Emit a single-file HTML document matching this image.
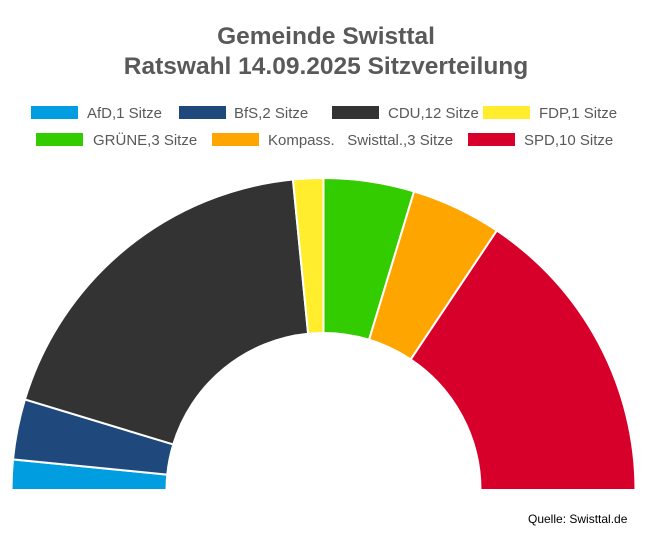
<!DOCTYPE html>
<html><head><meta charset="utf-8"><style>
body{margin:0;background:#fff;width:652px;height:536px;overflow:hidden;font-family:"Liberation Sans",sans-serif}
</style></head><body>
<svg id="s" width="652" height="536" xmlns="http://www.w3.org/2000/svg">
<rect width="652" height="536" fill="#fff"/>
<text x="326" y="44" text-anchor="middle" font-size="24.5" font-weight="bold" fill="#595959">Gemeinde Swisttal</text>
<text x="326" y="74" text-anchor="middle" font-size="24.5" font-weight="bold" fill="#595959">Ratswahl 14.09.2025 Sitzverteilung</text>
<g font-size="15" fill="#595959">
<rect x="31" y="106" width="47" height="13" fill="#009ee0"/><text x="87" y="118">AfD,1 Sitze</text>
<rect x="179" y="106" width="47" height="13" fill="#1f497d"/><text x="234" y="118">BfS,2 Sitze</text>
<rect x="332" y="106" width="47" height="13" fill="#333333"/><text x="388" y="118">CDU,12 Sitze</text>
<rect x="483" y="106" width="47" height="13" fill="#ffed2e"/><text x="539" y="118">FDP,1 Sitze</text>
<rect x="36" y="133" width="47" height="13" fill="#33cc00"/><text x="93" y="145">GRÜNE,3 Sitze</text>
<rect x="212" y="133" width="47" height="13" fill="#ffa500"/><text x="268" y="145" xml:space="preserve">Kompass.   Swisttal.,3 Sitze</text>
<rect x="468" y="133" width="47" height="13" fill="#d7002b"/><text x="524" y="145">SPD,10 Sitze</text>
</g>
<g id="pie"></g>
<text x="528" y="523" font-size="12" fill="#000">Quelle: Swisttal.de</text>
</svg>
<script>
var d=[[1,"#009ee0"],[2,"#1f497d"],[12,"#333333"],[1,"#ffed2e"],[3,"#33cc00"],[3,"#ffa500"],[10,"#d7002b"]];
var cx=323.5,cy=490,R=312,r=157,a=Math.PI,h="";
function p(rad,ang){return (cx+rad*Math.cos(ang)).toFixed(2)+","+(cy-rad*Math.sin(ang)).toFixed(2);}
d.forEach(function(e){var b=a-e[0]/32*Math.PI;
h+='<path d="M'+p(R,a)+' A'+R+','+R+' 0 0 1 '+p(R,b)+' L'+p(r,b)+' A'+r+','+r+' 0 0 0 '+p(r,a)+' Z" fill="'+e[1]+'" stroke="#fff" stroke-width="2"/>';a=b;});
document.getElementById("pie").innerHTML=h;
</script>
</body></html>
